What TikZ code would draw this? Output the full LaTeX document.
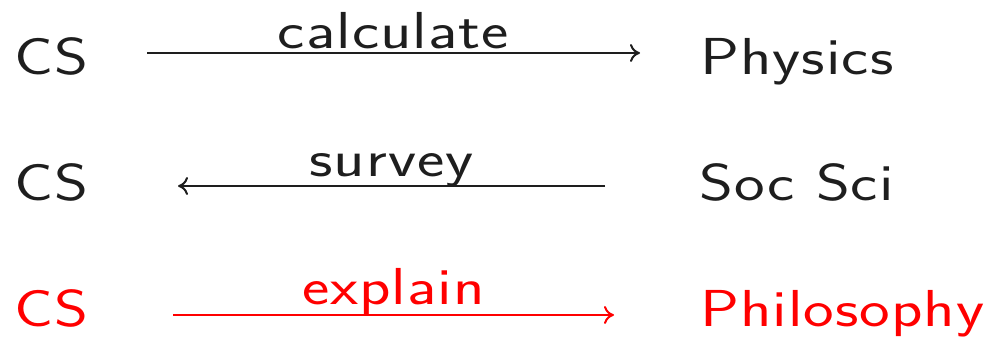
\documentclass[tikz,border=0pt]{standalone}
\usepackage{fontspec}
\setsansfont{lmsans17-regular.otf}[FakeStretch=1.25, LetterSpace=2]
\definecolor{textgray}{RGB}{30,30,30}
\definecolor{brightred}{RGB}{255,0,0}
\usepackage{tikz}
\usetikzlibrary{arrows.meta, positioning, calc}

\begin{document}
\begin{tikzpicture}[x=1pt, y=1pt,
  word/.style={anchor=base west, inner sep=0pt,
    font=\fontsize{52}{62}\selectfont\sffamily},
  lbl/.style={word, anchor=base},
  link/.style={-{To[length=10pt, width=18pt]}, line width=2pt}]
\useasboundingbox (0,0) rectangle (994,339);

% Row 1: CS -> Physics
\node[word, textgray] (cs1) at (14,264) {CS};
\node[word, textgray] (phys) at (700,264) {Physics};
\coordinate (s1) at (147,286);
\coordinate (e1) at (640,286);
\draw[link, textgray] (s1) -- (e1);
\node[lbl, textgray] (calc) at ($(s1)!0.5!(e1)+(0,4)$) {calculate};

% Row 2: CS <- Soc Sci
\node[word, textgray] (cs2) at (14,138) {CS};
\node[word, textgray] (soc) at (699,138) {Soc Sci};
\coordinate (s2) at (605,153);
\coordinate (e2) at (178,153);
\draw[link, textgray] (s2) -- (e2);
\node[lbl, textgray] (surv) at ($(s2)!0.5!(e2)+(0,9)$) {survey};

% Row 3: CS -> Philosophy (red)
\node[word, brightred] (cs3) at (14,12) {CS};
\node[word, brightred] (phil) at (700,12) {Philosophy};
\coordinate (s3) at (173,24);
\coordinate (e3) at (614,24);
\draw[link, brightred] (s3) -- (e3);
\node[lbl, brightred] (expl) at ($(s3)!0.5!(e3)+(0,10)$) {explain};
\end{tikzpicture}
\end{document}
